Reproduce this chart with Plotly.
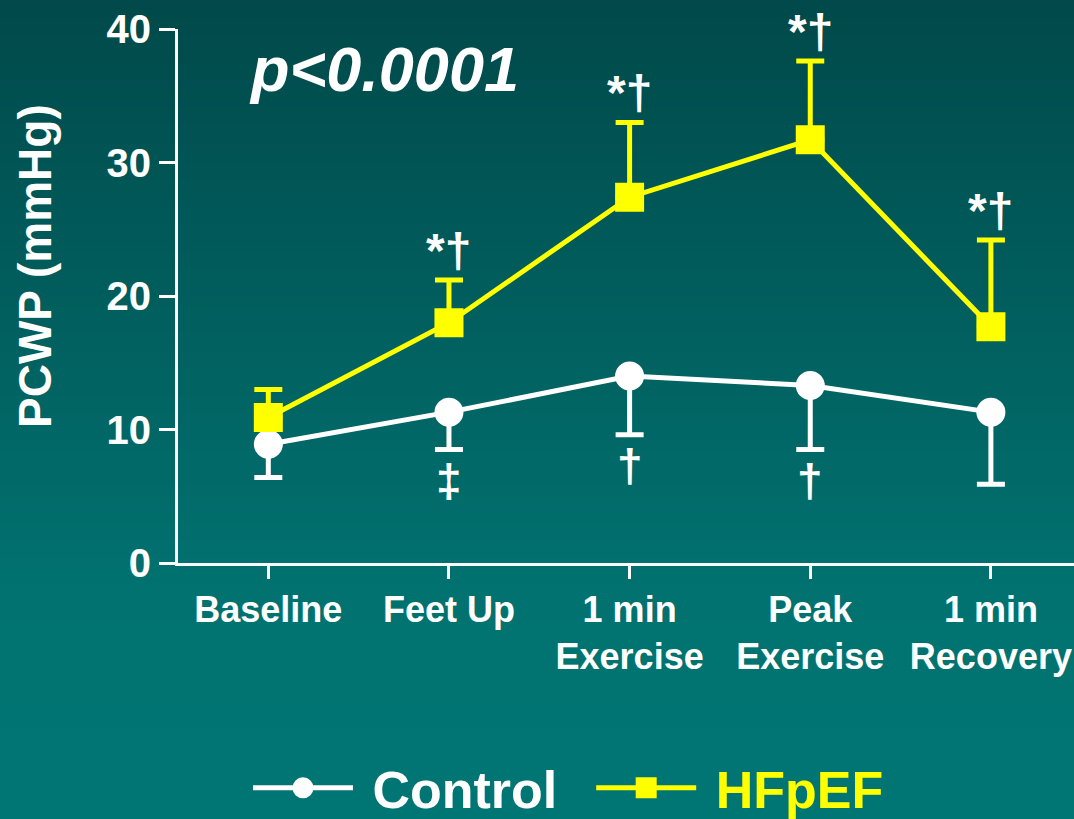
import plotly.graph_objects as go

# ---------------- data ----------------
categories = ["Baseline", "Feet Up", "1 min<br>Exercise", "Peak<br>Exercise", "1 min<br>Recovery"]
control_mean = [8.9, 11.3, 14.0, 13.3, 11.3]
control_sd = [2.5, 2.8, 4.4, 4.8, 5.4]
hfpef_mean = [10.9, 18.0, 27.4, 31.7, 17.7]
hfpef_sd = [2.1, 3.2, 5.6, 5.9, 6.5]
hfpef_marks = ["", "*†", "*†", "*†", "*†"]
control_marks = ["", "‡", "†", "†", ""]
y_ticks = [0, 10, 20, 30, 40]
p_text = "p<0.0001"
y_title = "PCWP (mmHg)"
series_names = ["Control", "HFpEF"]

# ---------------- style ----------------
W, H = 1074, 819
ML, MR, MT, MB = 178, 0, 29, 256
FONT = "Liberation Sans, Arial, sans-serif"
WHITE = "#FFFFFF"
YELLOW = "#FFFF00"
NB = "\u00a0"

fig = go.Figure()

fig.add_trace(go.Scatter(
    x=categories, y=control_mean, name=NB + series_names[0] + NB * 2,
    mode="lines+markers",
    line=dict(color=WHITE, width=5),
    marker=dict(symbol="circle", size=24, color=WHITE, line=dict(color=WHITE, width=5)),
    error_y=dict(type="data", symmetric=False, array=[0] * len(control_sd),
                 arrayminus=control_sd, color=WHITE, thickness=5, width=14),
))
fig.add_trace(go.Scatter(
    x=categories, y=hfpef_mean,
    name=NB + '<span style="color:#FFFF00">' + series_names[1] + '</span>',
    mode="lines+markers",
    line=dict(color=YELLOW, width=5),
    marker=dict(symbol="square", size=24, color=YELLOW, line=dict(color=YELLOW, width=5)),
    error_y=dict(type="data", symmetric=False, array=hfpef_sd,
                 arrayminus=[0] * len(hfpef_sd), color=YELLOW, thickness=5, width=14),
))

annotations = []
for c, m, s, t in zip(categories, hfpef_mean, hfpef_sd, hfpef_marks):
    if t:
        annotations.append(dict(x=c, y=m + s, xref="x", yref="y", text=t, showarrow=False,
                                xanchor="center", yanchor="bottom", yshift=1,
                                font=dict(family=FONT, size=48, color=WHITE, weight="bold")))
for c, m, s, t in zip(categories, control_mean, control_sd, control_marks):
    if t:
        annotations.append(dict(x=c, y=m - s, xref="x", yref="y", text=t, showarrow=False,
                                xanchor="center", yanchor="top", yshift=-3,
                                font=dict(family=FONT, size=46, color=WHITE, weight="bold")))
plot_h = H - MT - MB
plot_w = W - ML - MR
annotations.append(dict(x=(247 - ML) / plot_w, y=(563 - 32) / plot_h,
                        xref="paper", yref="paper", text=p_text, showarrow=False,
                        xanchor="left", yanchor="top",
                        font=dict(family=FONT, size=63, color=WHITE, weight="bold", style="italic")))
annotations.append(dict(x=(35 - ML) / plot_w, y=(563 - 266) / plot_h,
                        xref="paper", yref="paper", text=y_title, showarrow=False,
                        textangle=-90, xanchor="center", yanchor="middle",
                        font=dict(family=FONT, size=46, color=WHITE, weight="bold")))

# background gradient (stripes in paper coordinates)
stops = [(0.0, (1, 73, 74)), (0.72, (1, 114, 112)), (1.0, (0, 118, 116))]
def grad(f):
    for (f0, c0), (f1, c1) in zip(stops[:-1], stops[1:]):
        if f <= f1:
            t = (f - f0) / (f1 - f0)
            return tuple(round(a + (b - a) * t) for a, b in zip(c0, c1))
    return stops[-1][1]

shapes = []
n = 91
step = H / n
for i in range(n):
    top_px = i * step - 0.5
    bot_px = (i + 1) * step + 1
    col = "rgb(%d,%d,%d)" % grad((i + 0.5) / n)
    shapes.append(dict(type="rect", xref="paper", yref="paper", layer="below",
                       x0=-ML / plot_w - 0.01, x1=(W - ML) / plot_w + 0.01,
                       y0=(H - MB - bot_px) / plot_h, y1=(H - MB - top_px) / plot_h,
                       fillcolor=col, line=dict(width=0)))

fig.update_layout(
    width=W, height=H,
    margin=dict(l=ML, r=MR, t=MT, b=MB, pad=0, autoexpand=False),
    paper_bgcolor="rgb(0,118,116)",
    plot_bgcolor="rgba(0,0,0,0)",
    font=dict(family=FONT, color=WHITE),
    showlegend=True,
    legend=dict(orientation="h", x=(248 - ML) / plot_w, xanchor="left",
                y=(563 - 788) / plot_h, yanchor="middle",
                font=dict(family=FONT, size=52, color=WHITE, weight="bold"),
                itemwidth=100, bgcolor="rgba(0,0,0,0)"),
    xaxis=dict(type="category", categoryorder="array", categoryarray=categories,
               range=[-0.5, 4.46], showgrid=False, zeroline=False,
               showline=True, linecolor=WHITE, linewidth=3,
               ticks="outside", ticklen=13, tickwidth=3, tickcolor=WHITE,
               tickfont=dict(family=FONT, size=36, color=WHITE, weight="bold")),
    yaxis=dict(range=[0, 40], tickvals=y_ticks, showgrid=False, zeroline=False,
               showline=True, linecolor=WHITE, linewidth=3,
               ticks="outside", ticklen=16, tickwidth=3, tickcolor=WHITE,
               tickfont=dict(family=FONT, size=40, color=WHITE, weight="bold")),
    annotations=annotations,
    shapes=shapes,
)

fig.write_html("out.html")
